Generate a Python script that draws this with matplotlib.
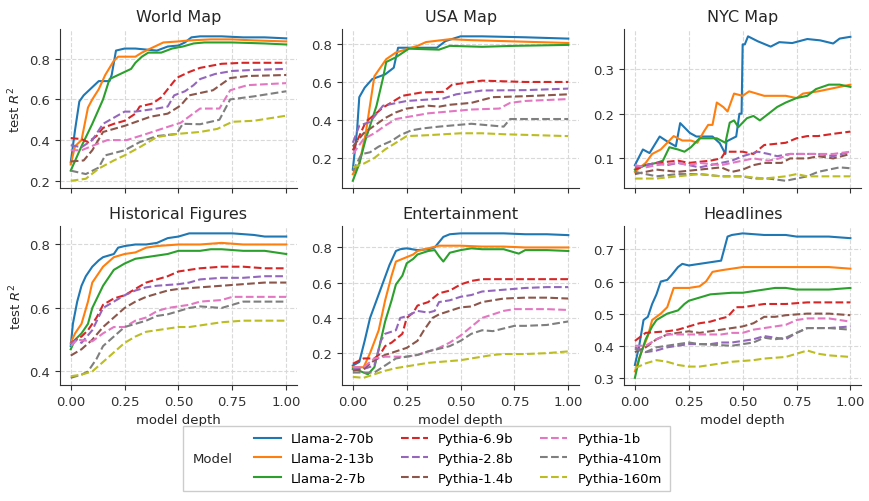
import matplotlib.pyplot as plt
from matplotlib.lines import Line2D
from matplotlib.patches import Rectangle
from matplotlib.ticker import MultipleLocator

models = ["Llama-2-70b", "Llama-2-13b", "Llama-2-7b",
          "Pythia-6.9b", "Pythia-2.8b", "Pythia-1.4b",
          "Pythia-1b", "Pythia-410m", "Pythia-160m"]
colors = ["#1f77b4", "#ff7f0e", "#2ca02c", "#d62728", "#9467bd",
          "#8c564b", "#e377c2", "#7f7f7f", "#bcbd22"]
titles = ["World Map", "USA Map", "NYC Map",
          "Historical Figures", "Entertainment", "Headlines"]

# (model depth, test R^2) points
world_map = {
    "Llama-2-70b": [(0, .29), (.02, .45), (.04, .59), (.06, .62), (.1, .66), (.13, .69), (.18, .69), (.19, .72), (.21, .84), (.25, .85), (.3, .85), (.35, .845), (.4, .84), (.45, .86), (.5, .865), (.53, .88), (.56, .905), (.6, .91), (.7, .91), (.8, .905), (.9, .905), (1, .90)],
    "Llama-2-13b": [(0, .28), (.02, .37), (.05, .40), (.08, .56), (.1, .60), (.13, .65), (.16, .72), (.2, .79), (.22, .81), (.3, .81), (.33, .83), (.37, .85), (.43, .88), (.5, .885), (.55, .89), (.65, .895), (.75, .895), (.85, .89), (1, .885)],
    "Llama-2-7b": [(0, .25), (.05, .37), (.1, .48), (.15, .60), (.18, .70), (.22, .72), (.25, .735), (.28, .75), (.3, .78), (.33, .81), (.36, .83), (.42, .83), (.47, .85), (.52, .86), (.57, .875), (.62, .88), (.75, .88), (.9, .875), (1, .87)],
    "Pythia-6.9b": [(0, .41), (.05, .405), (.08, .39), (.12, .42), (.15, .46), (.2, .48), (.25, .495), (.3, .53), (.32, .565), (.38, .58), (.42, .61), (.45, .65), (.48, .69), (.5, .71), (.55, .735), (.6, .755), (.7, .775), (.8, .78), (1, .78)],
    "Pythia-2.8b": [(0, .375), (.05, .365), (.1, .40), (.15, .48), (.2, .51), (.25, .54), (.3, .54), (.4, .555), (.45, .565), (.48, .62), (.53, .64), (.57, .67), (.6, .70), (.67, .725), (.75, .74), (.85, .745), (1, .75)],
    "Pythia-1.4b": [(0, .295), (.06, .30), (.1, .35), (.15, .44), (.25, .47), (.37, .515), (.45, .53), (.51, .57), (.55, .62), (.66, .645), (.74, .705), (.82, .715), (1, .72)],
    "Pythia-1b": [(0, .35), (.05, .35), (.12, .38), (.17, .40), (.26, .40), (.35, .43), (.45, .465), (.51, .485), (.6, .555), (.69, .555), (.74, .645), (.82, .67), (1, .68)],
    "Pythia-410m": [(0, .25), (.07, .233), (.13, .265), (.16, .325), (.25, .35), (.32, .39), (.4, .42), (.49, .43), (.52, .48), (.6, .478), (.69, .50), (.74, .60), (.85, .615), (1, .64)],
    "Pythia-160m": [(0, .20), (.07, .21), (.13, .26), (.2, .30), (.25, .325), (.32, .365), (.4, .415), (.49, .43), (.6, .44), (.68, .455), (.75, .49), (.85, .495), (1, .52)],
}

usa_map = {
    "Llama-2-70b": [(0, .14), (.02, .35), (.03, .52), (.055, .57), (.09, .615), (.15, .64), (.19, .675), (.21, .78), (.3, .78), (.39, .78), (.43, .815), (.5, .84), (.6, .84), (.8, .835), (1, .828)],
    "Llama-2-13b": [(0, .115), (.03, .17), (.06, .33), (.08, .48), (.1, .63), (.155, .72), (.2, .755), (.3, .79), (.34, .81), (.45, .825), (.55, .82), (.7, .815), (1, .805)],
    "Llama-2-7b": [(0, .08), (.03, .17), (.06, .30), (.11, .475), (.14, .62), (.155, .705), (.2, .73), (.26, .775), (.4, .77), (.45, .79), (.6, .785), (.75, .79), (1, .795)],
    "Pythia-6.9b": [(0, .24), (.06, .39), (.14, .465), (.23, .527), (.32, .545), (.42, .548), (.46, .585), (.52, .595), (.6, .607), (.8, .60), (1, .60)],
    "Pythia-2.8b": [(0, .28), (.03, .37), (.08, .39), (.14, .475), (.25, .50), (.42, .513), (.48, .535), (.6, .555), (.8, .557), (1, .565)],
    "Pythia-1.4b": [(0, .26), (.05, .33), (.1, .37), (.15, .41), (.2, .44), (.25, .46), (.35, .475), (.4, .47), (.45, .48), (.55, .49), (.65, .52), (.8, .525), (1, .535)],
    "Pythia-1b": [(0, .22), (.05, .30), (.1, .33), (.15, .37), (.2, .405), (.25, .415), (.35, .435), (.45, .445), (.55, .455), (.68, .46), (.73, .49), (.8, .50), (1, .51)],
    "Pythia-410m": [(0, .13), (.04, .22), (.08, .23), (.12, .26), (.18, .29), (.22, .32), (.27, .345), (.32, .355), (.4, .365), (.5, .375), (.55, .38), (.6, .375), (.7, .365), (.73, .405), (.85, .405), (1, .405)],
    "Pythia-160m": [(0, .15), (.05, .17), (.1, .20), (.15, .245), (.2, .28), (.25, .315), (.35, .32), (.5, .33), (.6, .33), (.7, .325), (.85, .32), (1, .315)],
}

nyc_map = {
    "Llama-2-70b": [(0, .085), (.037, .12), (.068, .112), (.115, .149), (.15, .138), (.19, .127), (.21, .179), (.255, .157), (.285, .149), (.36, .149), (.394, .134), (.42, .11), (.425, .138), (.47, .149), (.485, .2), (.495, .2), (.5, .355), (.51, .355), (.525, .373), (.57, .362), (.63, .35), (.67, .36), (.73, .358), (.8, .367), (.86, .364), (.92, .357), (.95, .368), (1, .372)],
    "Llama-2-13b": [(0, .07), (.05, .09), (.08, .11), (.12, .12), (.15, .135), (.18, .15), (.2, .145), (.22, .14), (.26, .14), (.29, .135), (.32, .16), (.34, .175), (.36, .175), (.38, .225), (.41, .215), (.43, .205), (.46, .245), (.5, .24), (.53, .25), (.6, .24), (.7, .24), (.75, .235), (.78, .245), (.85, .25), (.9, .255), (.95, .26), (1, .265)],
    "Llama-2-7b": [(0, .075), (.05, .085), (.1, .09), (.13, .095), (.16, .125), (.2, .12), (.23, .115), (.26, .125), (.3, .145), (.38, .145), (.42, .135), (.44, .18), (.46, .185), (.48, .17), (.52, .19), (.55, .195), (.58, .185), (.62, .2), (.66, .215), (.7, .225), (.75, .235), (.8, .24), (.84, .255), (.9, .265), (.95, .265), (1, .26)],
    "Pythia-6.9b": [(0, .075), (.05, .085), (.1, .09), (.2, .095), (.25, .09), (.35, .095), (.4, .1), (.42, .115), (.5, .115), (.55, .11), (.6, .13), (.7, .135), (.75, .145), (.8, .15), (.85, .15), (.92, .155), (1, .16)],
    "Pythia-2.8b": [(0, .08), (.05, .085), (.1, .09), (.15, .085), (.2, .09), (.3, .08), (.35, .085), (.45, .095), (.5, .105), (.57, .115), (.62, .11), (.66, .105), (.72, .11), (.85, .11), (.92, .105), (1, .115)],
    "Pythia-1.4b": [(0, .065), (.05, .07), (.1, .075), (.2, .07), (.3, .075), (.4, .08), (.45, .07), (.5, .075), (.55, .085), (.6, .09), (.68, .09), (.72, .1), (.8, .1), (.85, .105), (.92, .1), (1, .11)],
    "Pythia-1b": [(0, .085), (.05, .08), (.1, .085), (.2, .09), (.25, .085), (.3, .09), (.4, .085), (.45, .09), (.5, .095), (.55, .1), (.62, .095), (.67, .1), (.72, .11), (.85, .11), (.92, .11), (1, .115)],
    "Pythia-410m": [(0, .07), (.05, .065), (.1, .06), (.2, .065), (.3, .065), (.4, .06), (.5, .06), (.55, .055), (.62, .055), (.7, .05), (.75, .055), (.8, .06), (.85, .07), (.9, .075), (.95, .08), (1, .078)],
    "Pythia-160m": [(0, .055), (.1, .055), (.2, .06), (.3, .065), (.4, .06), (.5, .06), (.6, .055), (.7, .06), (.75, .065), (.8, .06), (1, .06)],
}

historical_figures = {
    "Llama-2-70b": [(0, .48), (.01, .55), (.03, .62), (.05, .67), (.07, .70), (.1, .73), (.13, .75), (.15, .76), (.2, .77), (.22, .79), (.25, .795), (.3, .80), (.35, .80), (.4, .805), (.45, .82), (.5, .825), (.55, .835), (.6, .835), (.75, .835), (.85, .83), (.9, .825), (1, .825)],
    "Llama-2-13b": [(0, .49), (.02, .52), (.05, .55), (.08, .62), (.1, .68), (.15, .73), (.2, .76), (.25, .77), (.3, .775), (.35, .79), (.4, .795), (.5, .80), (.6, .80), (.7, .805), (.8, .80), (1, .80)],
    "Llama-2-7b": [(0, .47), (.02, .50), (.05, .52), (.08, .55), (.1, .60), (.15, .67), (.2, .72), (.25, .74), (.3, .755), (.4, .765), (.45, .77), (.5, .78), (.6, .78), (.65, .785), (.7, .785), (.8, .78), (.9, .78), (1, .77)],
    "Pythia-6.9b": [(0, .49), (.05, .51), (.08, .53), (.12, .57), (.15, .61), (.2, .63), (.25, .64), (.3, .66), (.35, .68), (.4, .69), (.45, .70), (.5, .715), (.55, .72), (.6, .725), (.7, .73), (.8, .73), (.9, .725), (1, .725)],
    "Pythia-2.8b": [(0, .49), (.03, .50), (.05, .49), (.1, .53), (.15, .60), (.2, .62), (.25, .64), (.3, .655), (.35, .665), (.4, .67), (.5, .675), (.55, .68), (.6, .69), (.7, .695), (.8, .695), (.9, .70), (1, .70)],
    "Pythia-1.4b": [(0, .45), (.05, .47), (.1, .50), (.15, .54), (.2, .57), (.25, .60), (.3, .62), (.35, .635), (.4, .645), (.45, .655), (.5, .66), (.6, .665), (.7, .67), (.8, .675), (.9, .68), (1, .68)],
    "Pythia-1b": [(0, .48), (.03, .50), (.1, .495), (.15, .52), (.2, .54), (.25, .54), (.3, .56), (.35, .57), (.4, .59), (.45, .60), (.5, .605), (.55, .61), (.6, .62), (.7, .625), (.75, .635), (.9, .635), (1, .635)],
    "Pythia-410m": [(0, .38), (.05, .39), (.08, .40), (.12, .44), (.15, .48), (.2, .51), (.25, .54), (.3, .55), (.35, .56), (.4, .575), (.45, .58), (.5, .59), (.55, .60), (.6, .605), (.7, .60), (.75, .61), (.8, .62), (.9, .62), (1, .62)],
    "Pythia-160m": [(0, .385), (.05, .39), (.1, .40), (.15, .43), (.2, .46), (.25, .49), (.3, .51), (.35, .525), (.4, .53), (.45, .535), (.5, .54), (.55, .54), (.6, .545), (.65, .55), (.7, .555), (.8, .56), (.9, .56), (1, .56)],
}

entertainment = {
    "Llama-2-70b": [(0, .13), (.03, .15), (.055, .27), (.08, .40), (.11, .50), (.14, .60), (.17, .70), (.2, .78), (.22, .79), (.25, .795), (.3, .785), (.35, .79), (.38, .80), (.42, .86), (.45, .875), (.5, .88), (.6, .88), (.7, .88), (.8, .875), (.9, .875), (1, .87)],
    "Llama-2-13b": [(0, .12), (.05, .12), (.08, .20), (.12, .33), (.15, .50), (.18, .64), (.2, .72), (.25, .745), (.28, .76), (.3, .78), (.35, .795), (.4, .81), (.45, .81), (.5, .81), (.6, .805), (.7, .805), (.8, .80), (1, .80)],
    "Llama-2-7b": [(0, .11), (.03, .10), (.07, .08), (.1, .12), (.12, .22), (.15, .38), (.18, .50), (.2, .59), (.23, .64), (.25, .71), (.28, .735), (.3, .76), (.35, .78), (.38, .785), (.4, .75), (.42, .72), (.45, .77), (.5, .785), (.55, .795), (.6, .79), (.7, .79), (.77, .765), (.8, .785), (.9, .785), (1, .78)],
    "Pythia-6.9b": [(0, .14), (.05, .17), (.1, .17), (.13, .20), (.15, .24), (.18, .26), (.2, .28), (.23, .31), (.25, .40), (.28, .43), (.3, .47), (.35, .49), (.4, .54), (.45, .555), (.5, .59), (.55, .61), (.6, .62), (.8, .62), (1, .62)],
    "Pythia-2.8b": [(0, .11), (.05, .11), (.1, .13), (.13, .27), (.15, .31), (.2, .33), (.22, .40), (.25, .41), (.3, .44), (.35, .43), (.38, .44), (.4, .49), (.45, .50), (.5, .52), (.55, .53), (.6, .55), (.7, .56), (.8, .57), (.9, .575), (1, .575)],
    "Pythia-1.4b": [(0, .10), (.05, .11), (.1, .16), (.15, .19), (.2, .21), (.25, .23), (.3, .27), (.33, .33), (.37, .40), (.4, .42), (.45, .44), (.5, .46), (.55, .465), (.6, .49), (.65, .50), (.7, .51), (.8, .515), (.9, .515), (1, .51)],
    "Pythia-1b": [(0, .12), (.05, .12), (.1, .17), (.15, .18), (.25, .18), (.3, .19), (.35, .21), (.4, .23), (.45, .26), (.5, .30), (.55, .35), (.6, .40), (.65, .42), (.7, .44), (.75, .45), (.9, .45), (1, .445)],
    "Pythia-410m": [(0, .09), (.1, .09), (.15, .13), (.2, .17), (.25, .18), (.3, .19), (.35, .21), (.4, .225), (.45, .24), (.5, .27), (.55, .31), (.6, .33), (.65, .325), (.7, .34), (.75, .355), (.8, .355), (.9, .36), (1, .38)],
    "Pythia-160m": [(0, .065), (.05, .06), (.1, .08), (.15, .10), (.2, .115), (.25, .125), (.3, .135), (.35, .145), (.4, .15), (.45, .155), (.5, .16), (.55, .17), (.6, .18), (.65, .19), (.7, .195), (.8, .195), (.9, .20), (1, .21)],
}

headlines = {
    "Llama-2-70b": [(0, .34), (.02, .40), (.04, .48), (.06, .49), (.08, .53), (.1, .56), (.12, .60), (.15, .605), (.17, .62), (.2, .645), (.22, .655), (.25, .65), (.3, .655), (.35, .66), (.4, .665), (.43, .74), (.45, .745), (.5, .75), (.6, .745), (.7, .745), (.75, .74), (.9, .74), (1, .735)],
    "Llama-2-13b": [(0, .32), (.03, .38), (.06, .43), (.08, .48), (.12, .50), (.15, .52), (.18, .58), (.25, .58), (.3, .585), (.33, .60), (.36, .63), (.4, .635), (.45, .64), (.5, .645), (.9, .645), (1, .64)],
    "Llama-2-7b": [(0, .30), (.02, .36), (.05, .42), (.08, .46), (.1, .48), (.15, .50), (.2, .51), (.23, .53), (.25, .54), (.3, .55), (.35, .56), (.45, .565), (.5, .565), (.55, .57), (.6, .575), (.65, .58), (.7, .58), (.75, .575), (.9, .575), (1, .58)],
    "Pythia-6.9b": [(0, .415), (.03, .43), (.05, .44), (.15, .445), (.2, .45), (.25, .46), (.3, .47), (.35, .475), (.4, .485), (.43, .49), (.47, .52), (.5, .52), (.55, .525), (.6, .53), (.7, .53), (.8, .535), (1, .535)],
    "Pythia-2.8b": [(0, .395), (.05, .38), (.1, .385), (.15, .395), (.2, .40), (.25, .405), (.35, .405), (.4, .41), (.45, .41), (.5, .415), (.55, .42), (.6, .43), (.65, .425), (.7, .42), (.75, .44), (.8, .455), (.9, .455), (1, .46)],
    "Pythia-1.4b": [(0, .38), (.05, .395), (.1, .42), (.15, .435), (.2, .44), (.25, .445), (.3, .44), (.35, .445), (.4, .45), (.45, .455), (.5, .46), (.55, .47), (.6, .49), (.65, .49), (.7, .495), (.8, .50), (.9, .50), (1, .495)],
    "Pythia-1b": [(0, .40), (.05, .40), (.1, .42), (.15, .435), (.4, .435), (.45, .44), (.5, .44), (.55, .45), (.6, .455), (.65, .46), (.7, .465), (.75, .48), (.8, .485), (.9, .485), (1, .475)],
    "Pythia-410m": [(0, .39), (.05, .38), (.1, .395), (.15, .40), (.2, .405), (.25, .41), (.3, .405), (.45, .40), (.5, .405), (.55, .41), (.6, .425), (.65, .42), (.7, .425), (.75, .44), (.8, .455), (.9, .455), (1, .45)],
    "Pythia-160m": [(0, .33), (.05, .345), (.1, .355), (.15, .35), (.2, .34), (.25, .335), (.3, .335), (.35, .34), (.4, .345), (.45, .35), (.55, .355), (.6, .36), (.7, .365), (.75, .375), (.8, .385), (.85, .375), (.9, .37), (1, .365)],
}

panels = [world_map, usa_map, nyc_map, historical_figures, entertainment, headlines]
ytick_steps = [0.2, 0.2, 0.1, 0.2, 0.2, 0.1]

fig, axes = plt.subplots(2, 3, figsize=(8.69, 5.02), dpi=100, sharex=True)
fig.subplots_adjust(left=0.069, right=0.991, top=0.94, bottom=0.231, wspace=0.19, hspace=0.24)

for ax, title, data, step in zip(axes.flat, titles, panels, ytick_steps):
    for model, color in zip(models, colors):
        xs = [p[0] for p in data[model]]
        ys = [p[1] for p in data[model]]
        ls = "-" if model.startswith("Llama") else "--"
        ax.plot(xs, ys, color=color, ls=ls, lw=1.5, label=model)
    ax.set_title(title, fontsize=11.5, color="#262626")
    ax.grid(True, ls="--", color="#d9d9d9", lw=0.8)
    ax.set_axisbelow(True)
    ax.spines["top"].set_visible(False)
    ax.spines["right"].set_visible(False)
    for s in ["left", "bottom"]:
        ax.spines[s].set_color("#333333")
    ax.tick_params(labelsize=9.5, colors="#333333", length=3.5)
    ax.xaxis.set_major_locator(MultipleLocator(0.25))
    ax.yaxis.set_major_locator(MultipleLocator(step))

for ax in axes[:, 0]:
    ax.set_ylabel("test $R^2$", fontsize=9.5, color="#262626")
for ax in axes[1, :]:
    ax.set_xlabel("model depth", fontsize=9.5, color="#262626")

handles = [Line2D([], [], color=c, lw=1.5, ls="-" if m.startswith("Llama") else "--")
           for m, c in zip(models, colors)]
leg = fig.legend(handles, models, ncol=3, loc="center", bbox_to_anchor=(0.527, 0.0846),
                 frameon=False, fontsize=9.5, handlelength=2.0, columnspacing=2.0)

# frame around the legend with the "Model" label on its left
fig.canvas.draw()
bb = leg.get_window_extent().transformed(fig.transFigure.inverted())
W, H = fig.get_size_inches() * fig.dpi
x0 = bb.x0 - 66 / W
fig.patches.append(Rectangle((x0, bb.y0 - 1 / H), bb.x1 + 3 / W - x0, bb.height + 2 / H,
                             transform=fig.transFigure, fill=False, ec="#cccccc", lw=1))
fig.text(x0 + 10 / W, (bb.y0 + bb.y1) / 2, "Model", fontsize=9.5, color="#262626",
         ha="left", va="center")

fig.savefig("out.png", dpi=100)
